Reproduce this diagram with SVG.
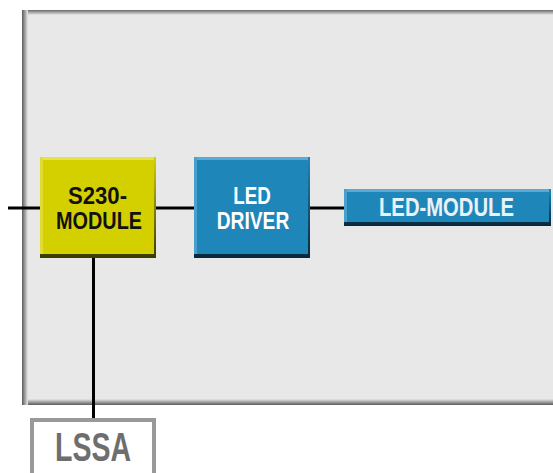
<svg xmlns="http://www.w3.org/2000/svg" width="553" height="473" viewBox="0 0 553 473">
<defs>
<style>
.lbl{font-family:"Liberation Sans",Arial,sans-serif;font-weight:bold;font-size:24.5px;text-anchor:middle}
.wire{stroke:#000;stroke-width:3;fill:none}
</style>
<linearGradient id="panelTop" x1="0" y1="0" x2="0" y2="1">
<stop offset="0" stop-color="#6a6a6a"/><stop offset="1" stop-color="#e8e8e8"/>
</linearGradient>
<linearGradient id="panelBot" x1="0" y1="0" x2="0" y2="1">
<stop offset="0" stop-color="#e8e8e8"/><stop offset="1" stop-color="#5a5a5a"/>
</linearGradient>
<linearGradient id="panelLeft" x1="0" y1="0" x2="1" y2="0">
<stop offset="0" stop-color="#5a5a5a"/><stop offset="1" stop-color="#e8e8e8"/>
</linearGradient>
<linearGradient id="yBot" x1="0" y1="0" x2="0" y2="1">
<stop offset="0" stop-color="#d4d000"/><stop offset="1" stop-color="#3a3a00"/>
</linearGradient>
<linearGradient id="bBot" x1="0" y1="0" x2="0" y2="1">
<stop offset="0" stop-color="#1f86b9"/><stop offset="1" stop-color="#07283a"/>
</linearGradient>
</defs>
<rect width="553" height="473" fill="#fff"/>
<g id="panel">
<rect x="22" y="10" width="531" height="395" fill="#e8e8e8"/>
<rect x="22" y="10" width="531" height="5" fill="url(#panelTop)"/>
<rect x="22" y="399" width="531" height="6" fill="url(#panelBot)"/>
<rect x="22" y="10" width="6" height="395" fill="url(#panelLeft)"/>
</g>
<g id="connectors">
<line class="wire" x1="8" y1="208" x2="41" y2="208"/>
<line class="wire" x1="155" y1="208" x2="195" y2="208"/>
<line class="wire" x1="309" y1="208" x2="345" y2="208"/>
<line class="wire" x1="93.5" y1="257" x2="93.5" y2="419"/>
</g>
<g id="s230">
<rect x="40" y="157" width="116" height="101" fill="url(#yBot)"/>
<rect x="40" y="157" width="114" height="97" fill="#d4d000"/>
<rect x="40" y="157" width="114" height="3" fill="#e6e34a"/>
<rect x="40" y="157" width="3" height="97" fill="#e0dd30"/>
<text class="lbl" x="97.5" y="203.5" fill="#111" textLength="59" lengthAdjust="spacingAndGlyphs">S230-</text>
<text class="lbl" x="99" y="229" fill="#111" textLength="86" lengthAdjust="spacingAndGlyphs">MODULE</text>
</g>
<g id="leddriver">
<rect x="194" y="157" width="116" height="101" fill="url(#bBot)"/>
<rect x="194" y="157" width="114" height="97" fill="#1f86b9"/>
<rect x="194" y="157" width="114" height="3" fill="#5aaad2"/>
<rect x="194" y="157" width="3" height="97" fill="#4aa0ca"/>
<text class="lbl" x="252" y="203.5" fill="#fff" textLength="37.5" lengthAdjust="spacingAndGlyphs">LED</text>
<text class="lbl" x="253" y="229" fill="#fff" textLength="72.5" lengthAdjust="spacingAndGlyphs">DRIVER</text>
</g>
<g id="ledmodule">
<rect x="344" y="189" width="207" height="37" fill="url(#bBot)"/>
<rect x="344" y="189" width="205" height="33" fill="#1f86b9"/>
<rect x="344" y="189" width="205" height="3" fill="#5aaad2"/>
<rect x="344" y="189" width="3" height="33" fill="#4aa0ca"/>
<text class="lbl" x="446.5" y="216" fill="#e8f2f8" style="font-size:25px" textLength="135" lengthAdjust="spacingAndGlyphs">LED-MODULE</text>
</g>
<g id="lssa">
<rect x="32" y="420" width="122" height="60" fill="#fff" stroke="#999" stroke-width="4"/>
<text class="lbl" x="93" y="461" fill="#6e6e6e" style="font-size:40px" textLength="76" lengthAdjust="spacingAndGlyphs">LSSA</text>
</g>
</svg>
